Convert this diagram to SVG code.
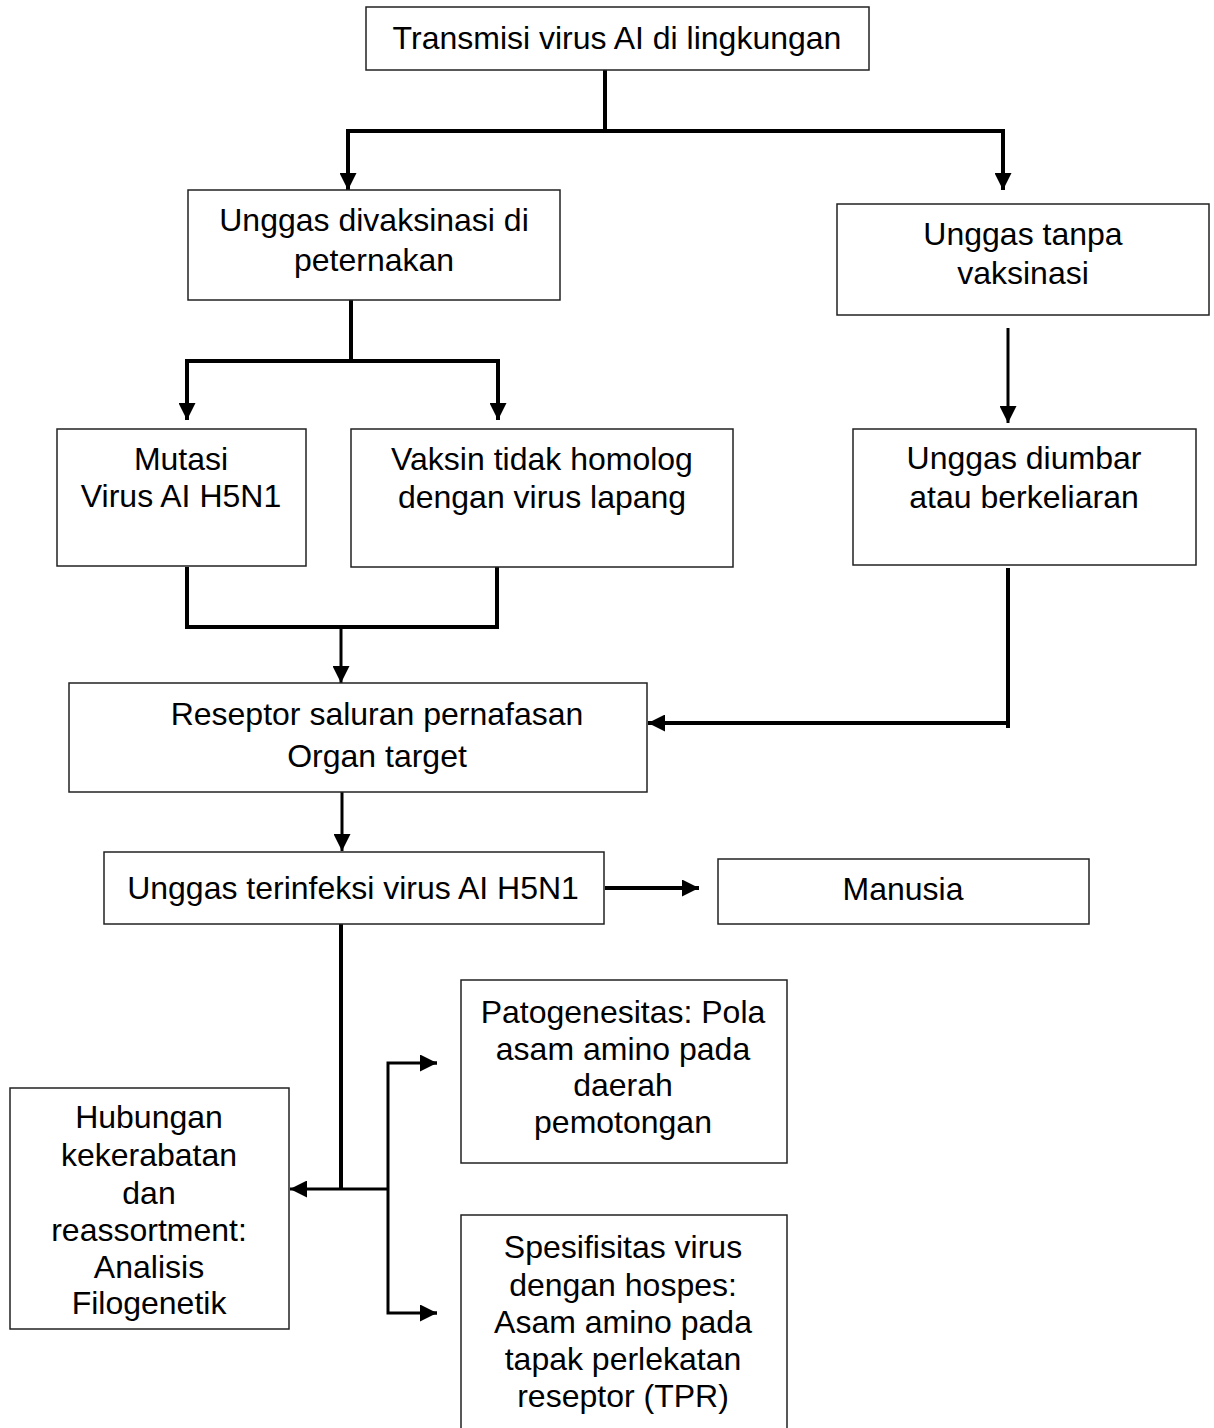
<svg xmlns="http://www.w3.org/2000/svg" width="1214" height="1428" viewBox="0 0 1214 1428">
<style>
.box{fill:#fff;stroke:#222;stroke-width:1.5}
.t{font-family:"Liberation Sans",Arial,sans-serif;font-size:32px;fill:#000;text-anchor:middle}
.c{fill:none;stroke:#000;stroke-width:4}
.c3{fill:none;stroke:#000;stroke-width:3}
</style>
<defs>
<marker id="ah" viewBox="0 0 16 16" markerWidth="17" markerHeight="17" markerUnits="userSpaceOnUse" refX="16" refY="8" orient="auto">
<path d="M0,0 L16,8 L0,16 z" fill="#000"/>
</marker>
</defs>
<rect width="1214" height="1428" fill="#fff"/>
<g id="connectors">
<path class="c" d="M605 70 V131"/>
<path class="c" d="M348 131 H1003"/>
<path class="c" d="M348 129 V190" marker-end="url(#ah)"/>
<path class="c" d="M1003 129 V190" marker-end="url(#ah)"/>
<path class="c" d="M351 300 V361"/>
<path class="c" d="M187 361 H498"/>
<path class="c" d="M187 359 V420" marker-end="url(#ah)"/>
<path class="c" d="M498 359 V420" marker-end="url(#ah)"/>
<path class="c3" d="M1008 328 V423" marker-end="url(#ah)"/>
<path class="c" d="M187 567 V627 H497 V567"/>
<path class="c3" d="M341 627 V683" marker-end="url(#ah)"/>
<path class="c" d="M1008 568 V728"/>
<path class="c" d="M1010 723 H648" marker-end="url(#ah)"/>
<path class="c3" d="M342 792 V851" marker-end="url(#ah)"/>
<path class="c" d="M605 888 H699" marker-end="url(#ah)"/>
<path class="c" d="M341 924 V1189"/>
<path class="c3" d="M388 1189 H290" marker-end="url(#ah)"/>
<path class="c3" d="M437 1063 H388 V1313 H437"/>
<path class="c3" d="M420 1063 H437" marker-end="url(#ah)"/>
<path class="c3" d="M420 1313 H437" marker-end="url(#ah)"/>
</g>
<g id="n1"><rect class="box" x="366" y="7" width="503" height="63"/><text class="t" x="617" y="49">Transmisi virus AI di lingkungan</text></g>
<g id="n2"><rect class="box" x="188" y="190" width="372" height="110"/><text class="t" x="374" y="231">Unggas divaksinasi di</text><text class="t" x="374" y="271">peternakan</text></g>
<g id="n3"><rect class="box" x="837" y="204" width="372" height="111"/><text class="t" x="1023" y="245">Unggas tanpa</text><text class="t" x="1023" y="284">vaksinasi</text></g>
<g id="n4"><rect class="box" x="57" y="429" width="249" height="137"/><text class="t" x="181" y="470">Mutasi</text><text class="t" x="181" y="507">Virus AI H5N1</text></g>
<g id="n5"><rect class="box" x="351" y="429" width="382" height="138"/><text class="t" x="542" y="470">Vaksin tidak homolog</text><text class="t" x="542" y="508">dengan virus lapang</text></g>
<g id="n6"><rect class="box" x="853" y="429" width="343" height="136"/><text class="t" x="1024" y="469">Unggas diumbar</text><text class="t" x="1024" y="508">atau berkeliaran</text></g>
<g id="n7"><rect class="box" x="69" y="683" width="578" height="109"/><text class="t" x="377" y="725">Reseptor saluran pernafasan</text><text class="t" x="377" y="767">Organ target</text></g>
<g id="n8"><rect class="box" x="104" y="852" width="500" height="72"/><text class="t" x="353" y="899">Unggas terinfeksi virus AI H5N1</text></g>
<g id="n9"><rect class="box" x="718" y="859" width="371" height="65"/><text class="t" x="903" y="900">Manusia</text></g>
<g id="n10"><rect class="box" x="461" y="980" width="326" height="183"/><text class="t" x="623" y="1023">Patogenesitas: Pola</text><text class="t" x="623" y="1060">asam amino pada</text><text class="t" x="623" y="1096">daerah</text><text class="t" x="623" y="1133">pemotongan</text></g>
<g id="n11"><rect class="box" x="10" y="1088" width="279" height="241"/><text class="t" x="149" y="1128">Hubungan</text><text class="t" x="149" y="1166">kekerabatan</text><text class="t" x="149" y="1204">dan</text><text class="t" x="149" y="1241">reassortment:</text><text class="t" x="149" y="1278">Analisis</text><text class="t" x="149" y="1314">Filogenetik</text></g>
<g id="n12"><rect class="box" x="461" y="1215" width="326" height="230"/><text class="t" x="623" y="1258">Spesifisitas virus</text><text class="t" x="623" y="1296">dengan hospes:</text><text class="t" x="623" y="1333">Asam amino pada</text><text class="t" x="623" y="1370">tapak perlekatan</text><text class="t" x="623" y="1407">reseptor (TPR)</text></g>
</svg>
